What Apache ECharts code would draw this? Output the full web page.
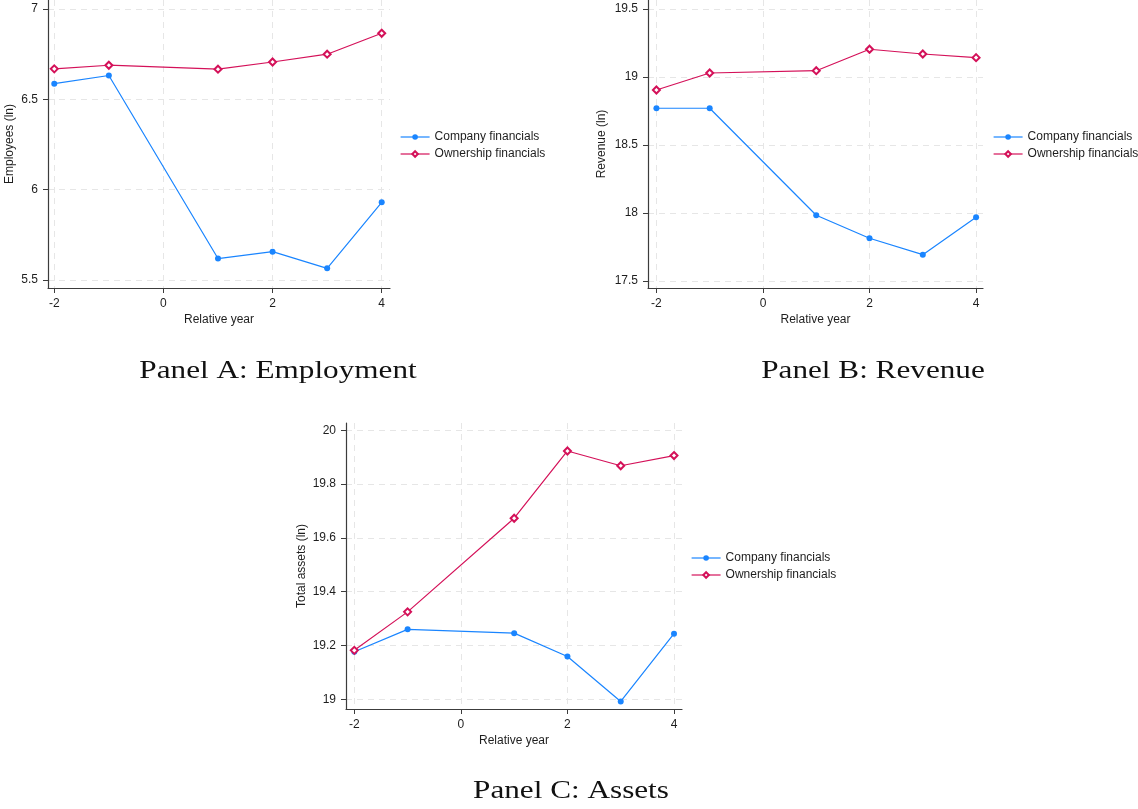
<!DOCTYPE html>
<html>
<head>
<meta charset="utf-8">
<script src="https://cdn.jsdelivr.net/npm/echarts@6/dist/echarts.min.js"></script>
<style>
  html, body { margin: 0; padding: 0; background: #ffffff; }
  #chart { width: 1138px; height: 809px; }
</style>
</head>
<body>
<div id="chart"></div>
<script>
// Event-time means (log scale) around the relative year, two data sources
const years = [-2, -1, 1, 2, 3, 4];

const employmentCompany   = [6.587, 6.632, 5.619, 5.657, 5.565, 5.930];
const employmentOwnership = [6.669, 6.689, 6.667, 6.707, 6.750, 6.866];

const revenueCompany   = [18.770, 18.770, 17.983, 17.814, 17.693, 17.968];
const revenueOwnership = [18.904, 19.029, 19.046, 19.204, 19.169, 19.142];

const assetsCompany   = [19.177, 19.260, 19.246, 19.159, 18.992, 19.244];
const assetsOwnership = [19.182, 19.325, 19.673, 19.923, 19.868, 19.906];

const xTicks = [-2, 0, 2, 4];
const employmentTicks = [5.5, 6, 6.5, 7];
const revenueTicks = [17.5, 18, 18.5, 19, 19.5];
const assetsTicks = [19, 19.2, 19.4, 19.6, 19.8, 20];

const seriesNames = ['Company financials', 'Ownership financials'];
const panelTitles = ['Panel A: Employment', 'Panel B: Revenue', 'Panel C: Assets'];
const yTitles = ['Employees (ln)', 'Revenue (ln)', 'Total assets (ln)'];
const xTitle = 'Relative year';

const BLUE = '#1a85ff';
const RED = '#d41159';
const SANS = '"Liberation Sans", Arial, sans-serif';
const SERIF = '"Liberation Serif", "Times New Roman", serif';

const pair = (xs, ys) => xs.map((x, i) => [x, ys[i]]);

// Plot-region placement and axis extents of each panel
const panels = [
  { grid: { left: 48,  top: 0,   width: 342, height: 288 },
    x: [-2.115, 4.152], y: [5.456, 7.050], yTicks: employmentTicks,
    company: employmentCompany, ownership: employmentOwnership,
    yGap: 32, legend: { left: 400, top: 131 }, title: [278, 371] },
  { grid: { left: 648, top: 0,   width: 335, height: 288 },
    x: [-2.158, 4.130], y: [17.448, 19.566], yTicks: revenueTicks,
    company: revenueCompany, ownership: revenueOwnership,
    yGap: 40, legend: { left: 993, top: 131 }, title: [873, 371] },
  { grid: { left: 346, top: 423, width: 336, height: 286 },
    x: [-2.156, 4.150], y: [18.964, 20.027], yTicks: assetsTicks,
    company: assetsCompany, ownership: assetsOwnership,
    yGap: 38, legend: { left: 691, top: 552 }, title: [571, 791] }
];

const gridLine = { show: true, lineStyle: { color: '#e6e6e6', width: 1, type: [6, 5] } };
const axisLine = { show: true, onZero: false, lineStyle: { color: '#3c3c3c', width: 1.2 } };
const labelStyle = { color: '#1e1e1e', fontSize: 12, fontFamily: SANS };

const option = {
  backgroundColor: '#ffffff',
  animation: false,
  grid: [], xAxis: [], yAxis: [], series: [], legend: [], graphic: []
};

panels.forEach((p, i) => {
  option.grid.push(Object.assign({ containLabel: false }, p.grid));

  option.xAxis.push({
    type: 'value', gridIndex: i, min: p.x[0], max: p.x[1],
    name: xTitle, nameLocation: 'middle', nameGap: 26,
    nameTextStyle: labelStyle,
    axisLine: axisLine,
    axisTick: { show: true, length: 5, customValues: xTicks, lineStyle: { color: '#3c3c3c' } },
    axisLabel: Object.assign({ customValues: xTicks, margin: 10 }, labelStyle),
    splitLine: gridLine
  });

  option.yAxis.push({
    type: 'value', gridIndex: i, min: p.y[0], max: p.y[1],
    name: yTitles[i], nameLocation: 'middle', nameGap: p.yGap,
    nameTextStyle: labelStyle,
    axisLine: axisLine,
    axisTick: { show: true, length: 5, customValues: p.yTicks, lineStyle: { color: '#3c3c3c' } },
    axisLabel: Object.assign({ customValues: p.yTicks, margin: 10 }, labelStyle),
    splitLine: gridLine
  });

  option.series.push({
    name: seriesNames[0], type: 'line', xAxisIndex: i, yAxisIndex: i,
    data: pair(years, p.company),
    symbol: 'circle', symbolSize: 6,
    itemStyle: { color: BLUE },
    lineStyle: { color: BLUE, width: 1.2 }
  });
  option.series.push({
    name: seriesNames[1], type: 'line', xAxisIndex: i, yAxisIndex: i,
    data: pair(years, p.ownership),
    symbol: 'emptyDiamond', symbolSize: 7,
    itemStyle: { color: RED, borderColor: RED, borderWidth: 1.5 },
    lineStyle: { color: RED, width: 1.2 }
  });

  option.legend.push({
    orient: 'vertical', left: p.legend.left, top: p.legend.top, padding: 0,
    data: seriesNames, itemWidth: 29, itemHeight: 7, itemGap: 5,
    lineStyle: { width: 1.2 },
    textStyle: { color: '#1e1e1e', fontSize: 12, fontFamily: SANS },
    selectedMode: false
  });

  option.graphic.push({
    type: 'text', x: p.title[0], y: p.title[1], scaleX: 1.2,
    style: { text: panelTitles[i], fontSize: 26, fontFamily: SERIF,
             fill: '#111111', align: 'center', verticalAlign: 'middle' }
  });
});

const chart = echarts.init(document.getElementById('chart'), null, { renderer: 'canvas' });
chart.setOption(option);
</script>
</body>
</html>
